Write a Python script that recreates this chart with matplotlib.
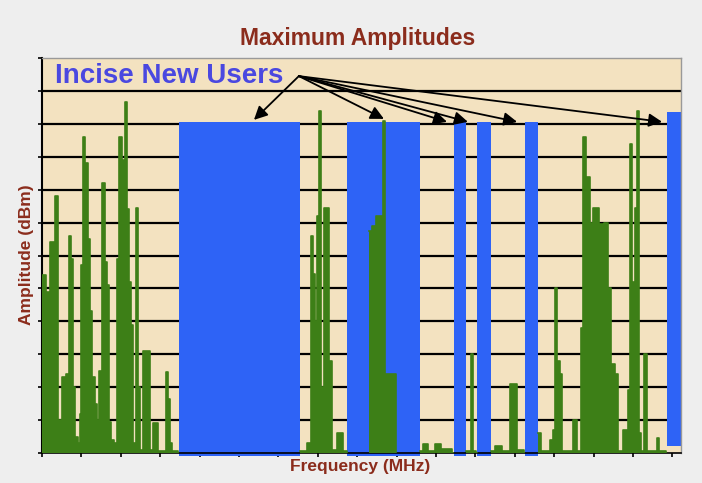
import numpy as np
import matplotlib
matplotlib.use("Agg")
import matplotlib.pyplot as plt

# green spectrum trace (frequency in tick units, amplitude in grid units), nan = gap
freq = [0.00, 0.10, 0.20, 0.33, 0.41, 0.51, 0.61, 0.69, 0.74, 0.79, 0.84, 0.91, 0.96, 0.99,
        1.04, 1.09, 1.17, 1.22, 1.27, 1.35, 1.40, 1.45, 1.52, 1.60, 1.65, 1.70, 1.75, 1.83,
        1.90, 1.95, 2.03, 2.11, 2.16, 2.21, 2.26, 2.31, 2.39, 2.44, 2.49, 2.56, 2.74, 2.82,
        2.94, 3.15, 3.20, 3.25, 3.30, 3.45, 3.46,
        6.56, 6.73, 6.83, 6.88, 6.93, 6.98, 7.03, 7.08, 7.16, 7.28, 7.36, 7.49, 7.64, 7.74, 7.75,
        8.30, 8.38, 8.48, 8.65, 8.71, 8.98, 8.99,
        9.59, 9.67, 9.80, 9.97, 10.13, 10.41, 10.42,
        10.76, 10.89, 10.94, 11.02, 11.03,
        11.40, 11.50, 11.68, 11.88, 12.06, 12.23, 12.24,
        12.59, 12.66, 12.89, 12.97, 13.02, 13.07, 13.15, 13.20, 13.48, 13.58, 13.68, 13.73,
        13.81, 13.91, 13.98, 14.14, 14.26, 14.37, 14.44, 14.54, 14.62, 14.75, 14.87, 14.92,
        14.97, 15.05, 15.10, 15.15, 15.20, 15.28, 15.36, 15.61, 15.66, 15.84, 15.85]
amp = [5.4, 4.9, 6.4, 7.8, 1.0, 2.3, 2.4, 6.6, 5.9, 2.0, 0.5, 0.3, 1.2, 5.7,
       9.6, 8.8, 6.5, 4.3, 2.3, 1.5, 1.0, 2.5, 8.2, 5.8, 5.1, 0.95, 0.4, 0.3,
       5.9, 9.6, 8.9, 10.65, 7.4, 5.2, 3.9, 0.3, 7.45, 2.0, 0.1, 3.1, 0.1, 0.9,
       0.05, 2.45, 1.65, 0.3, 0.05, 0.0, np.nan,
       0.05, 0.3, 6.6, 5.45, 4.0, 7.2, 10.4, 2.0, 7.45, 2.8, 0.1, 0.6, 0.05, 0.0, np.nan,
       6.75, 6.9, 7.2, 10.1, 2.4, 0.0, np.nan,
       0.05, 0.27, 0.05, 0.27, 0.12, 0.0, np.nan,
       0.05, 3.0, 0.05, 0.0, np.nan,
       0.05, 0.2, 0.05, 2.1, 0.1, 0.0, np.nan,
       0.6, 0.05, 0.4, 0.7, 5.0, 2.8, 2.4, 0.05, 1.0, 0.05, 3.8, 9.6,
       8.4, 7.0, 7.45, 6.95, 7.0, 5.0, 2.7, 2.4, 0.05, 0.7, 1.9, 9.4,
       5.2, 7.45, 10.4, 0.6, 0.05, 3.0, 0.05, 0.45, 0.05, 0.0, np.nan]

# blue "new user" blocks
bar_left = [3.48, 7.74, 10.46, 11.04, 12.26, 15.87]
bar_right = [6.55, 9.59, 10.76, 11.40, 12.59, 16.25]
bar_bottom = [-0.08, -0.08, -0.08, -0.08, -0.08, 0.22]
bar_top = [10.06, 10.06, 10.06, 10.06, 10.06, 10.37]

# annotation arrows
arrow_start = (6.52, 11.45)
arrow_x = [5.38, 8.68, 10.28, 10.81, 12.06, 15.74]
arrow_y = [10.12, 10.15, 10.06, 10.06, 10.06, 10.06]

green = '#3d7f17'
blue = '#2e63f6'
brown = '#8b2c1c'

fig = plt.figure(figsize=(7.02, 4.83), dpi=100, facecolor='#eeeeee')
ax = fig.add_axes([42/702, 30/483, 639/702, 395/483])
ax.set_facecolor('#f3e2c0')
ax.set_xlim(0, 16.22)
ax.set_ylim(0, 12)

for g in range(1, 12):
    ax.axhline(g, color='black', lw=1.6, zorder=1)

heights = [t - b for t, b in zip(bar_top, bar_bottom)]
widths = [r - l for r, l in zip(bar_right, bar_left)]
ax.bar(bar_left, heights, widths, bottom=bar_bottom, align='edge',
       color=blue, zorder=2, clip_on=False)

ax.fill_between(freq, 0, amp, step='post', color=green, lw=0, zorder=3)
ax.step(freq, amp, where='post', color=green, lw=1.2, zorder=3)

for tx, ty in zip(arrow_x, arrow_y):
    ax.annotate('', xy=(tx, ty), xytext=arrow_start,
                arrowprops=dict(arrowstyle='-|>', color='black', lw=1.3,
                                mutation_scale=20, shrinkA=0, shrinkB=0),
                zorder=4)

ax.text(0.33, 11.45, 'Incise New Users', color='#4a48e0', fontsize=20,
        fontweight='bold', family='Liberation Sans', va='center', ha='left',
        zorder=5)

ax.set_xticks(range(0, 17))
ax.set_yticks(range(0, 13))
ax.set_xticklabels([])
ax.set_yticklabels([])
ax.tick_params(axis='both', direction='out', length=3, width=1.2, color='black')
ax.spines['left'].set_color('black')
ax.spines['left'].set_linewidth(1.5)
ax.spines['bottom'].set_color('black')
ax.spines['bottom'].set_linewidth(1.2)
for s in ['top', 'right']:
    ax.spines[s].set_color('#999999')
    ax.spines[s].set_linewidth(1.0)

fig.text(358/702, 1 - 38/483, 'Maximum Amplitudes', color=brown, fontsize=16.5,
         fontweight='bold', family='Liberation Sans', ha='center', va='center')
fig.text(360/702, 1 - 467/483, 'Frequency (MHz)', color=brown, fontsize=12.5,
         fontweight='bold', family='Liberation Sans', ha='center', va='center')
fig.text(27/702, 1 - 255/483, 'Amplitude (dBm)', color=brown, fontsize=12.5,
         fontweight='bold', family='Liberation Sans', ha='center', va='center',
         rotation=90)

fig.savefig('out.png', dpi=100, facecolor=fig.get_facecolor())
